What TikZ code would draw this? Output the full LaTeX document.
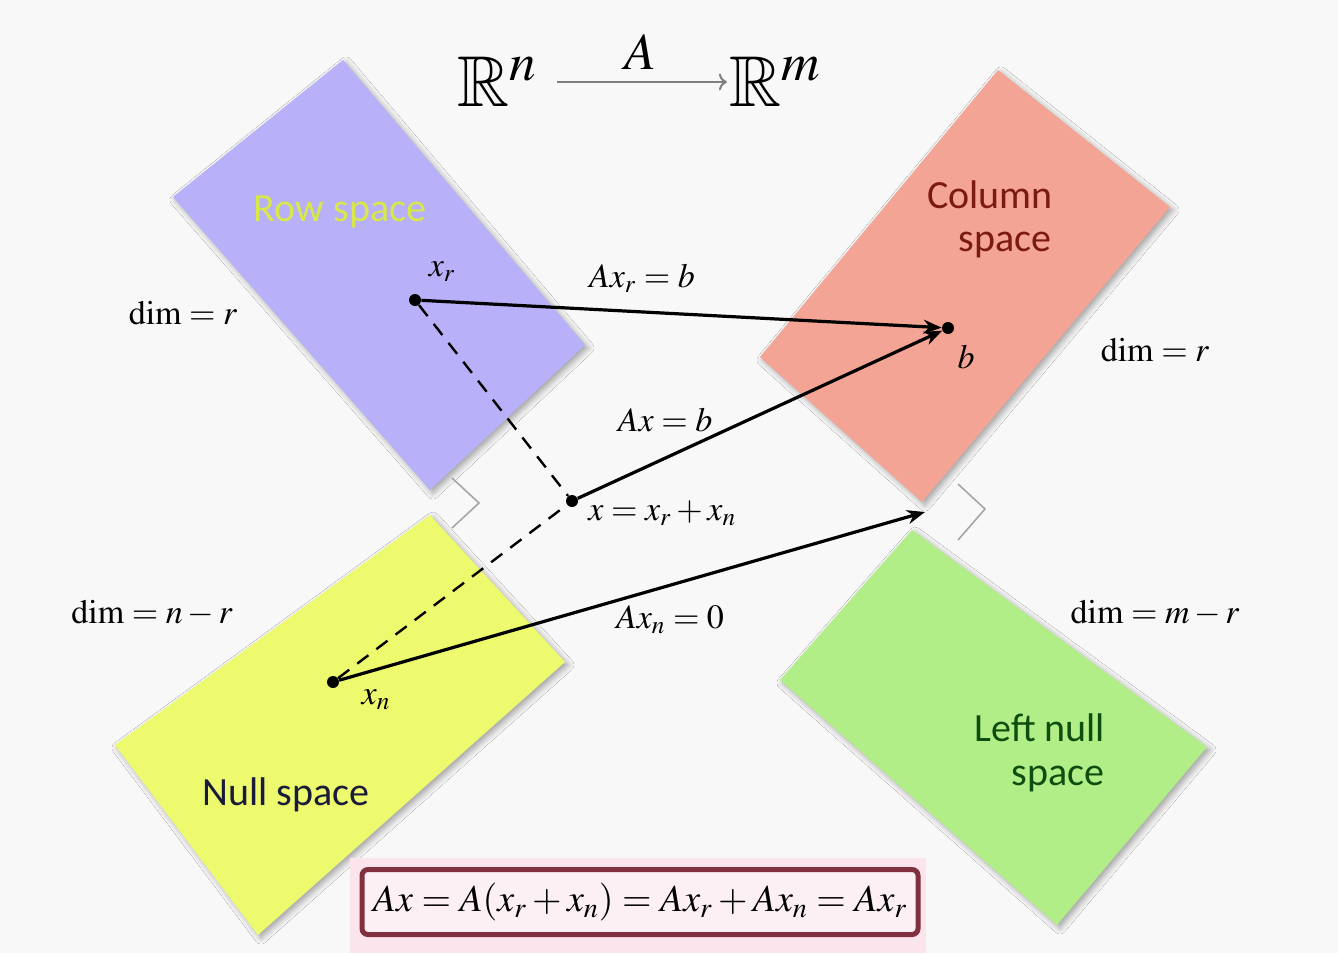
\documentclass[tikz,border=0pt]{standalone}
\usepackage{amssymb}
\usepackage{mathptmx}
\usepackage[no-math]{fontspec}
\setmainfont{Liberation Serif}
\newfontfamily\carlito{Carlito}
\usetikzlibrary{arrows.meta,shadows,shadows.blur}
\definecolor{bg}{HTML}{F8F8F8}
\definecolor{rowc}{HTML}{B8B0F8}
\definecolor{colc}{HTML}{F4A494}
\definecolor{nulc}{HTML}{EEFA6E}
\definecolor{lnuc}{HTML}{B2EE88}
\definecolor{rowtxt}{HTML}{D8E84A}
\definecolor{coltxt}{HTML}{7A1A10}
\definecolor{nultxt}{HTML}{1A1A3A}
\definecolor{lnutxt}{HTML}{0D4D0D}
\definecolor{boxc}{HTML}{80303F}
\definecolor{boxfill}{HTML}{FCF0F4}
\definecolor{pinkbg}{HTML}{FBE4EB}
\begin{document}
\begin{tikzpicture}[x=0.5pt,y=-0.5pt,
  subsp/.style={blur shadow={shadow xshift=1.5pt,shadow yshift=-1.5pt,shadow blur radius=3pt,shadow opacity=35}},
  lbl/.style={font=\fontsize{17}{19}\selectfont, inner sep=0pt},
  sptxt/.style={font=\carlito\fontsize{20}{22}\selectfont, inner sep=0pt, align=center},
  dot/.style={circle, fill=black, inner sep=0pt, minimum size=6pt},
  vec/.style={line width=1.6pt, -{Stealth[length=9pt,width=7pt]}},
  dsh/.style={line width=1.2pt, dash pattern=on 7pt off 5pt},
  rang/.style={draw=gray!70, line width=0.8pt},
]
\useasboundingbox[fill=bg] (0,0) rectangle (1338,953);

% subspaces
\fill[rowc, subsp] (343,60) -- (585,345) -- (430,490) -- (173,197) -- cycle;
\fill[colc, subsp] (998,70) -- (1170,207) -- (922,502) -- (760,357) -- cycle;
\fill[nulc, subsp] (430,515) -- (565,662) -- (258,935) -- (115,745) -- cycle;
\fill[lnuc, subsp] (912,530) -- (1207,747) -- (1057,925) -- (780,680) -- cycle;

% right-angle marks
\draw[rang] (452,478) -- (479,503) -- (452,528);
\draw[rang] (958,484) -- (985,509) -- (958,540);

% subspace names
\node[sptxt, text=rowtxt] (trow) at (340,212) {Row space};
\node[sptxt, text=coltxt] (tcol) at (990,195) {Column};
\node[sptxt, text=coltxt] (tcol2) at (1005,245) {space};
\node[sptxt, text=nultxt] (tnul) at (286,795) {Null space};
\node[sptxt, text=lnutxt] (tlnu) at (1040,728) {Left null};
\node[sptxt, text=lnutxt] (tlnu2) at (1058,779) {space};

% dims
\node[lbl] (d1) at (183,313) {$\mathrm{dim}=r$};
\node[lbl] (d2) at (1155,350) {$\mathrm{dim}=r$};
\node[lbl] (d3) at (152,613) {$\mathrm{dim}=n-r$};
\node[lbl] (d4) at (1155,613) {$\mathrm{dim}=m-r$};

% title
\node[font=\fontsize{36}{38}\selectfont, inner sep=1pt] (Rn) at (497,82) {$\mathbb{R}^n$};
\node[font=\fontsize{36}{38}\selectfont, inner sep=1pt] (Rm) at (775,82) {$\mathbb{R}^m$};
\draw[gray, line width=1pt, shorten <=9pt, -{To[length=4pt]}] (Rn.east) -- (Rm.west);
\node[font=\fontsize{26}{28}\selectfont] (tA) at (640,52) {$A$};

% points
\node[dot] (xr) at (415,300) {};
\node[dot] (b) at (948,328) {};
\node[dot] (x) at (572,501) {};
\node[dot] (xn) at (333,682) {};
\coordinate (o2) at (925,512);

% connectors
\draw[dsh] (xr) -- (x);
\draw[dsh] (xn) -- (x);
\draw[vec] (xr) -- (b);
\draw[vec] (x) -- (b);
\draw[vec] (xn) -- (o2);

% point labels
\node[lbl] (lxr) at (442,272) {$x_r$};
\node[lbl] (lb) at (966,357) {$b$};
\node[lbl, anchor=west] (lx) at (588,513) {$x = x_r + x_n$};
\node[lbl] (lxn) at (376,700) {$x_n$};
\node[lbl] (e1) at (642,278) {$Ax_r = b$};
\node[lbl] (e2) at (665,420) {$Ax = b$};
\node[lbl] (e3) at (670,620) {$Ax_n = 0$};

% bottom equation
\fill[pinkbg] (350,858) rectangle (926,953);
\node[draw=boxc, line width=2.5pt, rounded corners=3pt, fill=boxfill,
      minimum width=278pt, minimum height=32.5pt, inner sep=0pt,
      font=\fontsize{19}{21}\selectfont] (eq) at (640,902)
      {$Ax = A(x_r + x_n) = Ax_r + Ax_n = Ax_r$};
\end{tikzpicture}
\end{document}
